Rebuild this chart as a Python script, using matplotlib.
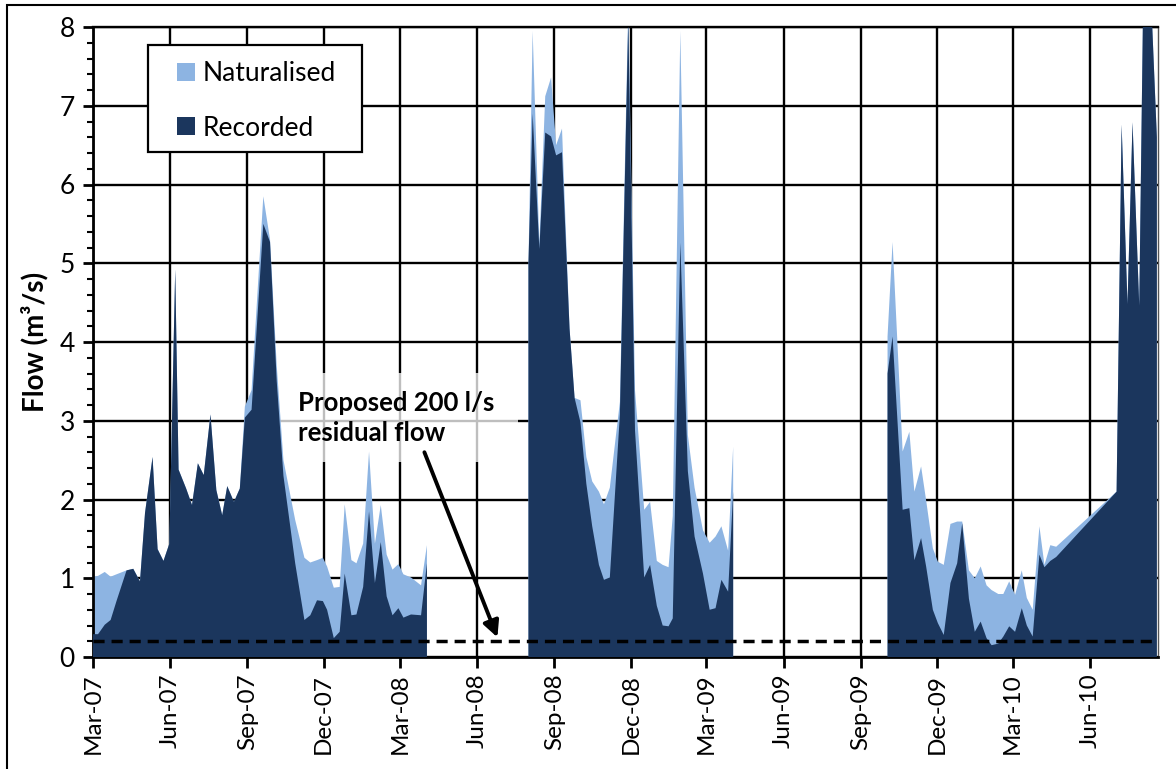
import numpy as np
import pandas as pd
import matplotlib
matplotlib.use("Agg")
import matplotlib.pyplot as plt
import matplotlib.dates as mdates
from matplotlib.patches import Rectangle
from matplotlib.ticker import MultipleLocator

plt.rcParams["font.family"] = ["Lato", "DejaVu Sans"]

NAT_COLOR = "#8DB4E2"
REC_COLOR = "#1B365D"
W, H = 1176, 769

# flow record, None marks periods with no data
dates = [
    "2007-03-01", "2007-03-07", "2007-03-15", "2007-03-22", "2007-03-29",
    "2007-04-10", "2007-04-18", "2007-04-26", "2007-05-02", "2007-05-11",
    "2007-05-17", "2007-05-24", "2007-05-31", "2007-06-07", "2007-06-11",
    "2007-06-20", "2007-06-27", "2007-07-04", "2007-07-11", "2007-07-19",
    "2007-07-26", "2007-08-02", "2007-08-08", "2007-08-16", "2007-08-23",
    "2007-08-29", "2007-09-06", "2007-09-20", "2007-09-28", "2007-10-06",
    "2007-10-14", "2007-10-28", "2007-11-08", "2007-11-15", "2007-11-23",
    "2007-11-30", "2007-12-05", "2007-12-13", "2007-12-20", "2007-12-26",
    "2008-01-03", "2008-01-09", "2008-01-17", "2008-01-24", "2008-01-31",
    "2008-02-07", "2008-02-14", "2008-02-21", "2008-02-28", "2008-03-05",
    "2008-03-14", "2008-03-26", "2008-04-02",
    "2008-06-01",
    "2008-08-01", "2008-08-06", "2008-08-14", "2008-08-21", "2008-08-28",
    "2008-09-03", "2008-09-10", "2008-09-19", "2008-09-25", "2008-10-02",
    "2008-10-09", "2008-10-16", "2008-10-24", "2008-10-30", "2008-11-06",
    "2008-11-18", "2008-11-28", "2008-12-06", "2008-12-17", "2008-12-24",
    "2009-01-01", "2009-01-08", "2009-01-15", "2009-01-20", "2009-01-29",
    "2009-02-07", "2009-02-15", "2009-02-25", "2009-03-05", "2009-03-12",
    "2009-03-19", "2009-03-27", "2009-04-02",
    "2009-06-01",
    "2009-10-03", "2009-10-09", "2009-10-21", "2009-10-29", "2009-11-04",
    "2009-11-12", "2009-11-18", "2009-11-26", "2009-12-02", "2009-12-09",
    "2009-12-17", "2009-12-25", "2009-12-31", "2010-01-08", "2010-01-15",
    "2010-01-22", "2010-01-29", "2010-02-04", "2010-02-12", "2010-02-18",
    "2010-02-25", "2010-03-04", "2010-03-12", "2010-03-18", "2010-03-25",
    "2010-04-02", "2010-04-08", "2010-04-15", "2010-04-22", "2010-07-03",
    "2010-07-09", "2010-07-16", "2010-07-22", "2010-07-30", "2010-08-04",
    "2010-08-11", "2010-08-20",
]

naturalised = [
    1.02, 1.03, 1.08, 1.02, 1.05, 1.10, 1.12, 0.96, 1.83, 2.54,
    1.37, 1.22, 1.44, 4.92, 2.38, 2.14, 1.93, 2.46, 2.31, 3.08,
    2.12, 1.80, 2.17, 1.97, 2.14, 3.18, 3.39, 5.85, 5.30, 3.70,
    2.50, 1.74, 1.26, 1.20, 1.23, 1.26, 1.15, 0.88, 0.89, 1.94,
    1.23, 1.19, 1.44, 2.61, 1.44, 1.93, 1.30, 1.11, 1.18, 1.05,
    1.01, 0.91, 1.42,
    None,
    5.00, 7.95, 5.25, 7.12, 7.36, 6.50, 6.71, 4.17, 3.29, 3.26,
    2.54, 2.23, 2.10, 1.94, 2.15, 3.24, 8.30, 3.39, 1.87, 1.97,
    1.22, 1.17, 1.14, 1.79, 7.95, 2.82, 2.15, 1.61, 1.45, 1.53,
    1.66, 1.35, 2.67,
    None,
    4.07, 5.27, 2.61, 2.86, 2.10, 2.42, 1.99, 1.38, 1.21, 1.17,
    1.69, 1.72, 1.72, 1.10, 1.00, 1.15, 0.91, 0.85, 0.80, 0.80,
    0.96, 0.79, 1.10, 0.75, 0.60, 1.66, 1.17, 1.42, 1.40, 2.10,
    6.76, 4.48, 6.79, 4.46, 8.60, 8.90, 6.60,
]

recorded = [
    0.29, 0.29, 0.41, 0.47, 0.71, 1.10, 1.12, 0.96, 1.83, 2.54,
    1.37, 1.22, 1.44, 4.92, 2.38, 2.14, 1.93, 2.46, 2.31, 3.08,
    2.12, 1.80, 2.17, 1.97, 2.14, 3.04, 3.14, 5.50, 5.27, 3.50,
    2.30, 1.19, 0.47, 0.53, 0.72, 0.71, 0.60, 0.24, 0.32, 1.06,
    0.53, 0.54, 0.89, 1.85, 0.94, 1.46, 0.77, 0.53, 0.62, 0.50,
    0.54, 0.53, 1.19,
    None,
    5.00, 6.90, 5.18, 6.66, 6.61, 6.37, 6.41, 4.17, 3.29, 2.98,
    2.20, 1.66, 1.17, 0.98, 1.01, 3.08, 8.10, 2.88, 1.01, 1.17,
    0.65, 0.40, 0.39, 0.49, 5.26, 2.36, 1.53, 1.06, 0.60, 0.62,
    0.98, 0.83, 2.10,
    None,
    3.60, 4.07, 1.87, 1.89, 1.23, 1.51, 1.15, 0.60, 0.43, 0.28,
    0.94, 1.19, 1.70, 0.74, 0.32, 0.45, 0.24, 0.15, 0.17, 0.26,
    0.39, 0.32, 0.62, 0.40, 0.26, 1.30, 1.14, 1.22, 1.27, 2.10,
    6.76, 4.48, 6.79, 4.46, 8.60, 8.90, 6.60,
]

residual_flow = 0.2  # m3/s, i.e. 200 l/s

x = pd.to_datetime(dates).values
nat = np.array([np.nan if v is None else v for v in naturalised], dtype=float)
rec = np.array([np.nan if v is None else v for v in recorded], dtype=float)


def fig_box(x0, y0, x1, y1):
    """pixel box (top-left origin) -> figure fraction (x, y, w, h)"""
    return x0 / W, 1 - y1 / H, (x1 - x0) / W, (y1 - y0) / H


fig = plt.figure(figsize=(W / 100, H / 100), dpi=100)
ax = fig.add_axes(fig_box(93, 27, 1157.7, 657))

# chart area border
fig.patches.append(Rectangle((7 / W, -0.1), 1.2, 1.1 - 5 / H,
                             transform=fig.transFigure, fill=False,
                             edgecolor="black", linewidth=1.5, zorder=0))

ax.fill_between(x, 0, nat, color=NAT_COLOR, linewidth=0, zorder=2,
                label="Naturalised")
ax.fill_between(x, 0, rec, color=REC_COLOR, linewidth=0, zorder=3,
                label="Recorded")

ax.axhline(residual_flow, color="black", linewidth=2.5,
           linestyle=(0, (3.2, 2.0)), zorder=4)

ax.set_xlim(pd.Timestamp("2007-03-01"), pd.Timestamp("2010-08-21"))
ax.set_ylim(0, 8)

ax.xaxis.set_major_locator(mdates.MonthLocator(bymonth=[3, 6, 9, 12]))
ax.xaxis.set_major_formatter(mdates.DateFormatter("%b-%y"))
ax.yaxis.set_major_locator(MultipleLocator(1))
ax.yaxis.set_minor_locator(MultipleLocator(0.2))

ax.set_axisbelow(True)
ax.grid(True, which="major", color="black", linewidth=1.7)

ax.tick_params(axis="x", which="major", direction="out", length=8, width=2,
               labelsize=17.5, rotation=90, pad=4)
ax.tick_params(axis="y", which="major", direction="out", length=7, width=2,
               labelsize=19, pad=6)
ax.tick_params(axis="y", which="minor", direction="out", length=4, width=1.5)

for side in ("left", "bottom"):
    ax.spines[side].set_linewidth(2)
ax.spines["top"].set_linewidth(1.7)
ax.spines["right"].set_linewidth(1)
ax.spines["right"].set_color("#555555")

ax.set_ylabel("Flow (m³/s)", fontsize=20, fontweight="bold", labelpad=8)

# legend: frame drawn separately for the wide Excel-style padding
ax.add_patch(Rectangle(fig_box(148, 45, 362, 152)[:2],
                       214 / W, 107 / H, transform=fig.transFigure,
                       facecolor="white", edgecolor="black", linewidth=1.6,
                       zorder=5, clip_on=False))
leg = ax.legend(loc="upper left", bbox_to_anchor=(177 / W, 1 - 61 / H),
                bbox_transform=fig.transFigure, fontsize=19, frameon=False,
                handlelength=0.68, handleheight=0.68, handletextpad=0.3,
                labelspacing=1.12, borderpad=0, borderaxespad=0)
leg.set_zorder(6)

# semi-transparent text box for the residual flow note (behind the flow areas)
ax.add_patch(Rectangle(fig_box(278, 373, 518, 462)[:2], 240 / W, 89 / H,
                       transform=fig.transFigure, facecolor="white",
                       edgecolor="none", alpha=0.75, zorder=1, clip_on=False))
ax.text(pd.Timestamp("2007-10-31"), 3.04, "Proposed 200 l/s\nresidual flow",
        fontsize=18.5, fontweight="bold", ha="left", va="center",
        linespacing=1.3, zorder=6)

ax.annotate("", xy=(pd.Timestamp("2008-06-25"), 0.25),
            xytext=(pd.Timestamp("2008-03-30"), 2.6),
            arrowprops=dict(arrowstyle="-|>", color="black", linewidth=2.8,
                            mutation_scale=24, shrinkA=0, shrinkB=0),
            zorder=6)

fig.savefig("out.png", dpi=100)
